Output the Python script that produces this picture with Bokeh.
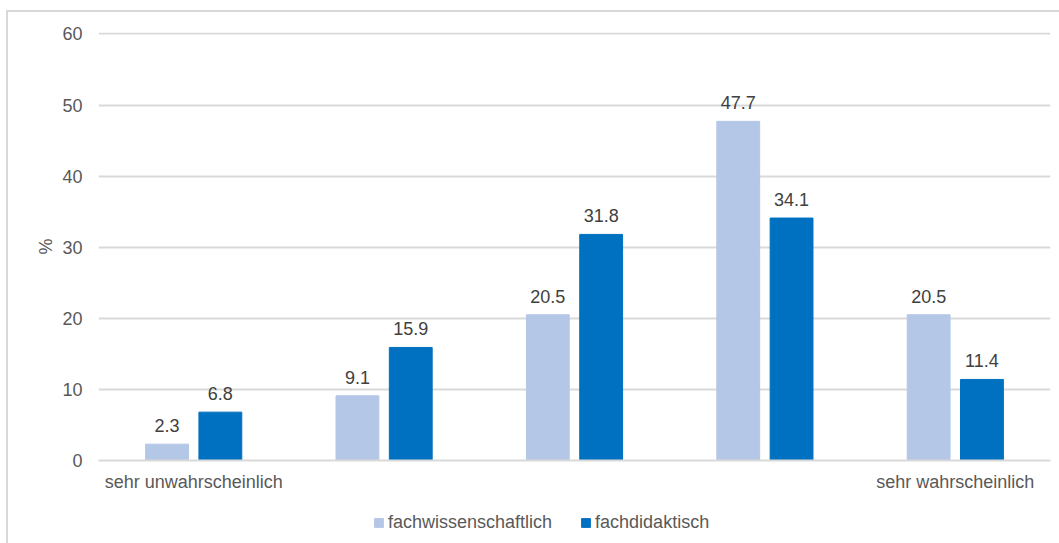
from bokeh.plotting import figure
from bokeh.layouts import column
from bokeh.models import (ColumnDataSource, Range1d, FixedTicker,
                          LabelSet, Legend, LegendItem)
from bokeh.core.properties import value
from bokeh.embed import file_html
from bokeh.resources import INLINE

categories = ["sehr unwahrscheinlich", "", "", "", "sehr wahrscheinlich"]
series_names = ["fachwissenschaftlich", "fachdidaktisch"]
fachwissenschaftlich = [2.3, 9.1, 20.5, 47.7, 20.5]
fachdidaktisch = [6.8, 15.9, 31.8, 34.1, 11.4]
y_ticks = [0, 10, 20, 30, 40, 50, 60]

colors = ["#B4C7E7", "#0070C0"]
FONT = "Liberation Sans"
TXT = "#595959"
FS = "18px"

W = 1051
p = figure(width=W, height=488, output_backend="svg", toolbar_location=None,
           x_range=Range1d(0, len(categories)), y_range=Range1d(0, 60.2),
           min_border_left=90, min_border_right=9, min_border_top=20,
           min_border_bottom=40)
p.outline_line_color = None
p.background_fill_color = "white"
p.border_fill_color = "white"

centers = [i + 0.5 for i in range(len(categories))]
offs = [-0.14, 0.14]
for k, (name, vals) in enumerate(zip(series_names, [fachwissenschaftlich, fachdidaktisch])):
    src = ColumnDataSource(dict(x=[c + offs[k] for c in centers], top=vals,
                                lab=[f"{v:.1f}" for v in vals]))
    p.vbar(x="x", top="top", width=0.225, bottom=0, source=src,
           fill_color=colors[k], line_color=colors[k])
    p.add_layout(LabelSet(x="x", y="top", text="lab", source=src, text_align="center",
                          text_baseline="bottom", y_offset=12, text_font=value(FONT),
                          text_font_size=value(FS), text_color="#404040"))

# axes
p.xaxis.ticker = FixedTicker(ticks=centers)
p.xaxis.major_label_overrides = {c: lab for c, lab in zip(centers, categories)}
p.xaxis.major_tick_line_color = None
p.xaxis.minor_tick_line_color = None
p.xaxis.major_tick_out = 0
p.xaxis.major_tick_in = 0
p.xaxis.axis_line_color = "#D9D9D9"
p.xaxis.axis_line_width = 2
p.xaxis.major_label_text_font = FONT
p.xaxis.major_label_text_font_size = FS
p.xaxis.major_label_text_color = TXT
p.xaxis.major_label_standoff = 11

p.yaxis.ticker = FixedTicker(ticks=y_ticks)
p.yaxis.axis_line_color = None
p.yaxis.major_tick_line_color = None
p.yaxis.minor_tick_line_color = None
p.yaxis.major_tick_out = 0
p.yaxis.major_tick_in = 0
p.yaxis.major_label_text_font = FONT
p.yaxis.major_label_text_font_size = FS
p.yaxis.major_label_text_color = TXT
p.yaxis.major_label_standoff = 16
p.yaxis.axis_label = "%"
p.yaxis.axis_label_text_font = FONT
p.yaxis.axis_label_text_font_size = FS
p.yaxis.axis_label_text_font_style = "normal"
p.yaxis.axis_label_text_color = TXT
p.yaxis.axis_label_standoff = 3

p.xgrid.grid_line_color = None
p.ygrid.grid_line_color = "#D9D9D9"
p.ygrid.grid_line_width = 2

# legend strip
lg = figure(width=W, height=43, output_backend="svg", toolbar_location=None,
            x_range=Range1d(0, 1), y_range=Range1d(0, 1),
            x_axis_type=None, y_axis_type=None,
            min_border_left=0, min_border_right=0, min_border_top=0, min_border_bottom=0)
lg.outline_line_color = None
lg.xgrid.visible = False
lg.ygrid.visible = False
items = []
for k, name in enumerate(series_names):
    r = lg.rect(x=[-5], y=[-5], width=1, height=1,
                fill_color=colors[k], line_color=colors[k])
    items.append(LegendItem(label=name, renderers=[r]))
lg.add_layout(Legend(items=items, orientation="horizontal", location=(275, 10),
                     label_text_font=FONT, label_text_font_size=FS, label_text_color=TXT,
                     glyph_width=11, glyph_height=11, spacing=28, label_standoff=4,
                     border_line_color=None, background_fill_alpha=0, padding=0, margin=0))

layout = column(p, lg, spacing=0)
layout.margin = (10, 0, 0, 6)
layout.styles = {"border-left": "2px solid #D9D9D9", "border-top": "2px solid #D9D9D9"}

open("out.html", "w").write(file_html(layout, INLINE))
